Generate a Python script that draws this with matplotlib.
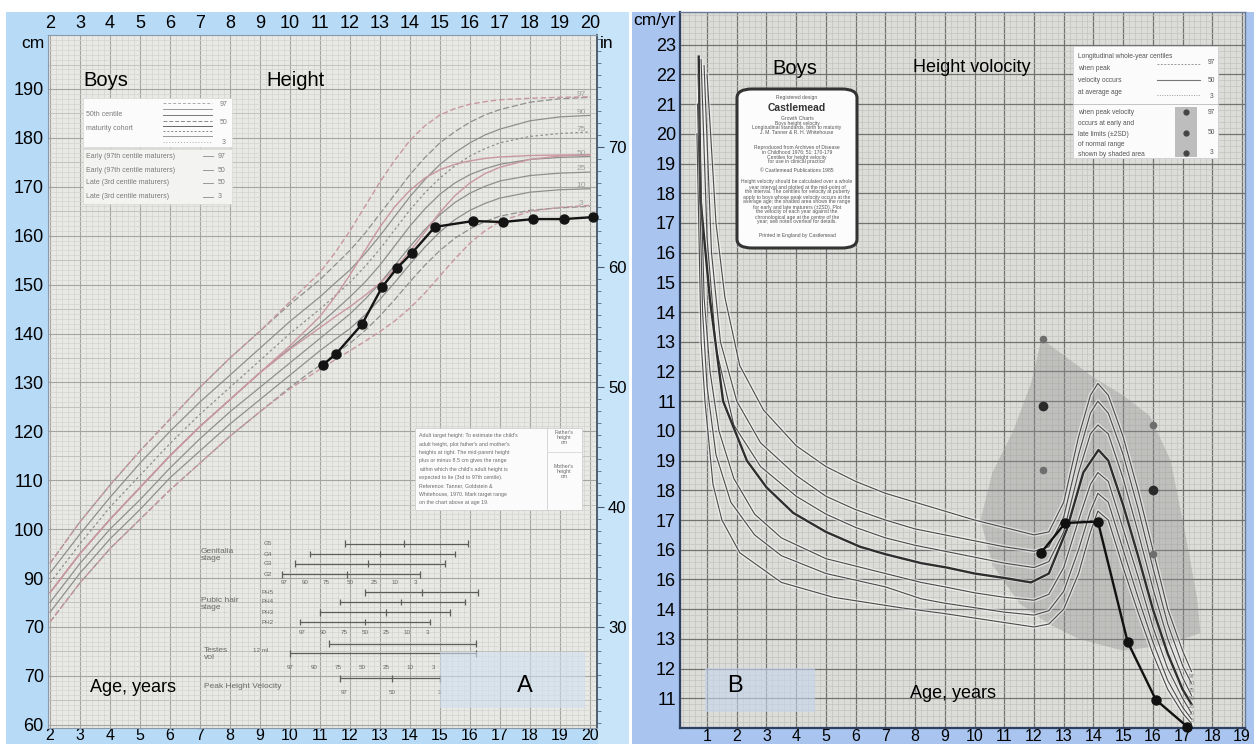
import numpy as np
import matplotlib
matplotlib.use("Agg")
import matplotlib.pyplot as plt
from matplotlib.patches import Rectangle, FancyBboxPatch, Polygon
from matplotlib.lines import Line2D
from matplotlib.ticker import MultipleLocator

plt.rcParams['font.family'] = ['Liberation Sans', 'DejaVu Sans']

# ================= Panel A : height (cm) =================
age_ticks_a = list(range(2, 21))
height_ticks = list(range(60, 200, 10))
height_ticklabels = ['60', '70', '70', '90', '100', '110', '120', '130', '140',
                     '150', '160', '170', '180', '190']
inch_ticks = [30, 40, 50, 60, 70]

ages_h = [2, 3, 4, 5, 6, 7, 8, 9, 10, 10.5, 11, 11.5, 12, 12.5, 13, 13.5, 14,
          14.5, 15, 15.5, 16, 16.5, 17, 18, 19, 20]
h_p97 = [93, 101.5, 109, 116, 122.5, 129, 135, 140.5, 146, 148.5, 151, 154, 157,
         160.5, 164.5, 168.5, 172.5, 176, 179, 181.3, 183.2, 184.7, 185.8, 187.3, 188, 188.3]
h_p90 = [91, 99, 106.5, 113.5, 120, 126, 131.5, 137, 142.5, 145, 147.5, 150.3, 153,
         156.3, 160, 164, 168, 171.5, 174.6, 177, 179, 180.6, 181.8, 183.5, 184.3, 184.6]
h_p75 = [89, 97, 104.5, 111, 117.5, 123.5, 129, 134.5, 140, 142.5, 145, 147.7, 150.5,
         153.7, 157.3, 161.3, 165.3, 168.8, 171.8, 174.3, 176.3, 177.8, 179, 180.3, 180.9, 181.2]
h_p50 = [87, 95, 102, 108.5, 115, 121, 126.5, 132, 137, 139.5, 142, 144.7, 147.5,
         150.5, 154, 158, 162, 165.5, 168.5, 170.8, 172.5, 173.7, 174.6, 175.6, 176, 176.2]
h_p25 = [85, 93, 100, 106, 112.5, 118.5, 124, 129, 134, 136.5, 139, 141.5, 144,
         147, 150.3, 154, 157.8, 161.3, 164.3, 166.8, 168.7, 170.1, 171.2, 172.3, 172.8, 173]
h_p10 = [83, 91, 98, 104, 110.5, 116, 121.5, 126.5, 131.5, 134, 136.5, 138.8, 141,
         143.8, 147, 150.5, 154.2, 157.7, 160.8, 163.3, 165.2, 166.6, 167.7, 168.9, 169.4, 169.6]
h_p3 = [81, 89, 96, 102, 108, 113.5, 119, 124, 129, 131.3, 133.5, 135.8, 138,
        140.6, 143.6, 147, 150.6, 154, 157, 159.5, 161.4, 162.9, 164, 165.2, 165.7, 166]
h_early97 = [93, 101.5, 109, 116, 122.5, 129, 135, 140.5, 146.5, 149.5, 152.5, 156.5, 161,
             166, 171, 175.5, 179.5, 182.5, 184.7, 186, 186.9, 187.4, 187.8, 188.1, 188.3, 188.4]
h_early50 = [87, 95, 102, 108.5, 115, 121, 126.5, 132, 137.5, 140.5, 143.5, 147.5, 152,
             157, 161.8, 166, 169.3, 171.8, 173.5, 174.6, 175.3, 175.8, 176.1, 176.4, 176.5, 176.5]
h_late50 = [87, 95, 102, 108.5, 115, 121, 126.5, 132, 136.8, 139, 141.2, 143.4, 145.5,
            147.8, 150.3, 153.2, 156.8, 160.8, 164.8, 168.2, 170.8, 172.7, 174, 175.6, 176.3, 176.6]
h_late3 = [81, 89, 96, 102, 108, 113.5, 119, 124, 128.7, 130.7, 132.7, 134.6, 136.5,
           138.4, 140.4, 142.6, 145.2, 148.3, 151.8, 155.3, 158.5, 161, 162.9, 165, 165.8, 166.2]
centile_names = ['97', '90', '75', '50', '25', '10', '3']

patient_age_h = [11.1, 11.53, 12.4, 13.07, 13.57, 14.07, 14.83, 16.1, 17.1, 18.1, 19.13, 20.1]
patient_height = [133.6, 135.8, 141.9, 149.5, 153.4, 156.5, 161.8, 163.0, 162.8, 163.4, 163.4, 163.8]

# puberty staging: age ranges (3rd-97th centile) and 50th centile tick
genit_names = ['G5', 'G4', 'G3', 'G2']
genit_from = [11.83, 10.67, 10.17, 9.73]
genit_to = [15.93, 15.5, 15.17, 14.33]
genit_mid = [13.8, 13.0, 12.6, 11.9]
genit_cent_age = [9.8, 10.5, 11.2, 12.0, 12.8, 13.5, 14.2]
pubic_names = ['PH5', 'PH4', 'PH3', 'PH2']
pubic_from = [12.5, 11.67, 11.0, 10.33]
pubic_to = [16.27, 15.83, 15.33, 14.67]
pubic_mid = [14.4, 13.7, 13.2, 12.5]
pubic_cent_age = [10.4, 11.1, 11.8, 12.5, 13.2, 13.9, 14.6]
testes_from = [11.3, 10.0]
testes_to = [16.2, 16.2]
testes_cent_age = [10.0, 10.8, 11.6, 12.4, 13.2, 14.0, 14.8]
phv_from = [11.67]
phv_to = [15.0]
phv_cent_names = ['97', '50', '3']
phv_cent_age = [11.8, 13.4, 15.0]

# ================= Panel B : height velocity (cm/yr) =================
age_ticks_b = list(range(1, 20))
vel_ticks = list(range(1, 24))
vel_ticklabels = ['11', '12', '13', '14', '16', '16', '17', '18', '19', '10', '11', '12',
                  '13', '14', '15', '16', '17', '18', '19', '20', '21', '22', '23']

v97_age = [1.0, 1.3, 1.6, 2.1, 2.9, 4, 5, 6, 7, 8, 9, 10, 11, 12, 12.5, 13, 13.5, 13.9,
           14.15, 14.5, 15, 15.5, 16, 16.5, 17, 17.3]
v97 = [22.0, 17.0, 14.5, 12.2, 10.7, 9.5, 8.8, 8.3, 7.9, 7.6, 7.3, 7.0, 6.75, 6.5, 6.6,
       7.6, 9.8, 11.2, 11.6, 11.2, 9.8, 8.0, 6.0, 4.0, 2.6, 1.9]
v90_age = [0.9, 1.15, 1.45, 2.0, 2.8, 4, 5, 6, 7, 8, 9, 10, 11, 12, 12.5, 13, 13.5, 13.9,
           14.15, 14.5, 15, 15.5, 16, 16.5, 17, 17.3]
v90 = [22.3, 16.0, 13.0, 11.0, 9.6, 8.5, 7.8, 7.35, 7.0, 6.7, 6.5, 6.3, 6.1, 5.95, 6.1,
       7.1, 9.2, 10.6, 11.0, 10.6, 9.2, 7.4, 5.4, 3.5, 2.1, 1.5]
v75_age = [0.8, 1.0, 1.3, 1.9, 2.8, 4, 5, 6, 7, 8, 9, 10, 11, 12, 12.5, 13, 13.5, 13.9,
           14.15, 14.5, 15, 15.5, 16, 16.5, 17, 17.3]
v75 = [22.5, 16.5, 12.8, 10.2, 8.8, 7.8, 7.2, 6.75, 6.4, 6.15, 5.95, 5.75, 5.55, 5.4, 5.6,
       6.6, 8.6, 9.9, 10.2, 9.9, 8.4, 6.6, 4.7, 3.0, 1.7, 1.1]
v50_age = [0.72, 0.78, 1.1, 1.54, 2.34, 3.0, 3.9, 5, 6.15, 7, 8.2, 9.07, 10, 11, 11.9,
           12.5, 13.1, 13.66, 14.17, 14.5, 15, 15.5, 16, 16.5, 17, 17.3]
v50 = [22.6, 17.8, 14.4, 11.0, 9.0, 8.1, 7.24, 6.6, 6.1, 5.85, 5.55, 5.4, 5.2, 5.05, 4.9,
       5.2, 6.67, 8.6, 9.36, 9.0, 7.5, 5.8, 4.0, 2.5, 1.3, 0.8]
v25_age = [0.7, 0.9, 1.1, 1.4, 1.9, 2.6, 3.5, 5, 7, 8.2, 9, 10, 11, 12, 12.5, 13, 13.5,
           13.9, 14.15, 14.5, 15, 15.5, 16, 16.5, 17, 17.3]
v25 = [22.0, 14.5, 12.0, 10.0, 8.4, 7.2, 6.4, 5.7, 5.2, 4.9, 4.75, 4.55, 4.4, 4.3, 4.5,
       5.4, 7.0, 8.2, 8.6, 8.3, 6.7, 5.1, 3.4, 2.0, 1.0, 0.5]
v10_age = [0.68, 0.85, 1.0, 1.3, 1.8, 2.6, 3.5, 5, 7, 8.2, 9, 10, 11, 12, 12.5, 13, 13.5,
           13.9, 14.15, 14.5, 15, 15.5, 16, 16.5, 17, 17.3]
v10 = [21.0, 14.0, 11.5, 9.2, 7.6, 6.5, 5.8, 5.2, 4.75, 4.35, 4.2, 4.05, 3.9, 3.8, 3.95,
       4.6, 6.0, 7.3, 7.9, 7.6, 6.0, 4.4, 2.9, 1.6, 0.7, 0.3]
v3_age = [0.66, 0.8, 0.93, 1.2, 1.5, 2.1, 3.5, 5.25, 7.5, 9, 10, 11, 12, 12.5, 13, 13.5,
          13.9, 14.15, 14.5, 15, 15.5, 16, 16.5, 17, 17.3]
v3 = [20.0, 13.0, 11.0, 8.2, 7.0, 5.9, 4.9, 4.4, 4.05, 3.85, 3.7, 3.55, 3.4, 3.5, 4.0,
      5.2, 6.6, 7.3, 7.0, 5.4, 3.9, 2.5, 1.3, 0.5, 0.15]

shade_age = [12.25, 13.2, 14.0, 15.0, 15.9, 16.6, 17.1, 17.5, 17.6, 16.5, 15.0, 13.5,
             12.5, 11.5, 10.6, 10.2, 10.6, 11.3, 11.9]
shade_val = [13.1, 12.4, 11.8, 11.2, 10.5, 9.0, 6.5, 4.3, 3.2, 2.8, 2.6, 3.0, 3.5, 4.2,
             5.5, 7.0, 8.6, 10.0, 11.6]

limit_age = [12.3, 12.3, 12.3, 16.0, 16.0, 16.0]
limit_val = [13.1, 10.85, 8.7, 10.2, 8.0, 5.85]
limit_is_mid = [False, True, False, False, True, False]

patient_age_v = [12.24, 13.05, 14.15, 15.15, 16.1, 17.15]
patient_vel = [5.9, 6.9, 6.95, 2.9, 0.95, 0.05]

# ================= figure & helpers =================
W, H = 1254, 744
fig = plt.figure(figsize=(W / 100, H / 100), dpi=100)


def fx(px):
    return px / W


def fy(py):
    return 1 - py / H


def frect(x0, y0, x1, y1, **kw):
    r = Rectangle((fx(x0), fy(y1)), (x1 - x0) / W, (y1 - y0) / H,
                  transform=fig.transFigure, **kw)
    fig.add_artist(r)
    return r


def ftext(px, py, s, **kw):
    kw.setdefault('zorder', 6)
    kw.setdefault('va', 'center')
    return fig.text(fx(px), fy(py), s, **kw)


def fline(xs, ys, **kw):
    kw.setdefault('zorder', 6)
    fig.add_artist(Line2D([fx(x) for x in xs], [fy(y) for y in ys],
                          transform=fig.transFigure, **kw))


# blue frames
frect(6, 12, 629, 744, facecolor='#b7daf6', edgecolor='none', zorder=-5)
frect(598, 12, 629, 744, facecolor='#c8e4f9', edgecolor='none', zorder=-4)
frect(632, 12, 1254, 744, facecolor='#a9c5ef', edgecolor='none', zorder=-5)

# ---------------- Axes A ----------------
axA = fig.add_axes([48 / W, 16 / H, 549 / W, 693 / H])
axA.set_facecolor('#e8e8e4')
axA.set_xlim(1.933, 20.233)
axA.set_ylim(59.33, 201.04)
axA.set_xticks(age_ticks_a)
axA.set_xticklabels([str(a) for a in age_ticks_a])
axA.set_yticks(height_ticks)
axA.set_yticklabels(height_ticklabels)
axA.xaxis.set_minor_locator(MultipleLocator(0.2))
axA.yaxis.set_minor_locator(MultipleLocator(1))
axA.set_axisbelow(True)
axA.grid(which='minor', color='#d3d3cf', lw=0.5)
axA.grid(which='major', color='#a4a4a0', lw=0.8)
for v in range(65, 200, 10):
    axA.axhline(v, color='#bebeba', lw=0.6, zorder=0.6)
axA.tick_params(axis='x', which='both', top=True, labeltop=True, bottom=True,
                labelbottom=True, length=0, labelsize=13, pad=2)
axA.tick_params(axis='x', which='both', labelbottom=True, labelsize=12)
for lab in axA.get_xticklabels(which='major'):
    pass
axA.xaxis.set_tick_params(which='major', pad=2)
axA.tick_params(axis='y', which='both', length=0, labelsize=13, pad=3)
for s in axA.spines.values():
    s.set_color('#8a9aaa')
    s.set_linewidth(0.8)
axA.spines['right'].set_color('#4f5f70')
axA.spines['right'].set_linewidth(1.4)


def cm_to_in(cm):
    return 70 - (178.1 - np.asarray(cm)) / 2.454


def in_to_cm(i):
    return 178.1 - (70 - np.asarray(i)) * 2.454


sec = axA.secondary_yaxis('right', functions=(cm_to_in, in_to_cm))
sec.set_yticks(inch_ticks)
sec.yaxis.set_minor_locator(MultipleLocator(1))
sec.tick_params(which='major', length=5, color='#4a5a6a', labelsize=12, pad=3)
sec.tick_params(which='minor', length=3, color='#5a6a7a')
sec.spines['right'].set_visible(False)

gray_sets = [(h_p97, (0, (5, 2))), (h_p90, '-'), (h_p75, (0, (2, 2))), (h_p50, '-'),
             (h_p25, '-'), (h_p10, '-'), (h_p3, (0, (5, 2)))]
for vals, ls in gray_sets:
    axA.plot(ages_h, vals, color='#8f8f8f', lw=0.9, ls=ls, zorder=3)
pink_sets = [(h_early97, (0, (4, 2))), (h_early50, '-'), (h_late50, '-'), (h_late3, (0, (4, 2)))]
for vals, ls in pink_sets:
    axA.plot(ages_h, vals, color='#c9979f', lw=1.0, ls=ls, zorder=3)
for (vals, ls), name in zip(gray_sets, centile_names):
    axA.text(19.7, vals[-2] + 0.9, name, fontsize=6, color='#a0a0a0', ha='center',
             va='center', zorder=4)

axA.plot(patient_age_h, patient_height, color='#141414', lw=1.7, marker='o', ms=6.5,
         zorder=6, clip_on=False)

# puberty staging bars
genit_rows = np.array([97.0, 94.9, 92.9, 90.8])
pubic_rows = np.array([87.1, 85.1, 83.0, 81.0])
testes_rows = np.array([76.6, 74.6])
phv_rows = np.array([69.5])
sc = '#5c5c5c'


def stage_bars(rows, frm, to, mid=None):
    axA.hlines(rows, frm, to, color=sc, lw=0.9, zorder=4)
    axA.vlines(frm, rows - 0.7, rows + 0.7, color=sc, lw=0.9, zorder=4)
    axA.vlines(to, rows - 0.7, rows + 0.7, color=sc, lw=0.9, zorder=4)
    if mid is not None:
        axA.vlines(mid, rows - 0.7, rows + 0.7, color=sc, lw=0.9, zorder=4)


stage_bars(genit_rows, genit_from, genit_to, genit_mid)
stage_bars(pubic_rows, pubic_from, pubic_to, pubic_mid)
stage_bars(testes_rows, testes_from, testes_to)
stage_bars(phv_rows, phv_from, phv_to, [13.4])
for r, n in zip(genit_rows, genit_names):
    axA.text(9.25, r, n, fontsize=4.5, color='#666', va='center', ha='center')
for r, n in zip(pubic_rows, pubic_names):
    axA.text(9.25, r, n, fontsize=4.5, color='#666', va='center', ha='center')
for a, n in zip(genit_cent_age, centile_names):
    axA.text(a, 89.0, n, fontsize=4.5, color='#666', ha='center', va='center')
for a, n in zip(pubic_cent_age, centile_names):
    axA.text(a, 78.9, n, fontsize=4.5, color='#666', ha='center', va='center')
for a, n in zip(testes_cent_age, centile_names):
    axA.text(a, 71.8, n, fontsize=4.5, color='#666', ha='center', va='center')
for a, n in zip(phv_cent_age, phv_cent_names):
    axA.text(a, 66.6, n, fontsize=4.5, color='#666', ha='center', va='center')

# bottom tick labels of A: slightly smaller and closer so they stay inside the image
for lab in axA.xaxis.get_ticklabels():
    lab.set_fontsize(13)
axA.xaxis.set_tick_params(labelbottom=True)
for t in axA.xaxis.get_major_ticks():
    t.label1.set_fontsize(11.5)
    t.label1.set_y(0.004)
    t.label2.set_fontsize(13)

# ---------------- Axes B ----------------
axB = fig.add_axes([680 / W, 16 / H, 565 / W, 716 / H])
axB.set_facecolor('#dcdcd8')
axB.set_xlim(0.09, 19.1)
axB.set_ylim(0, 24.1)
axB.set_xticks(age_ticks_b)
axB.set_xticklabels([str(a) for a in age_ticks_b])
axB.set_yticks(vel_ticks)
axB.set_yticklabels(vel_ticklabels)
axB.xaxis.set_minor_locator(MultipleLocator(0.2))
axB.yaxis.set_minor_locator(MultipleLocator(0.2))
axB.set_axisbelow(True)
axB.grid(which='minor', color='#c3c3bf', lw=0.5)
axB.grid(which='major', color='#727272', lw=0.9)
axB.tick_params(axis='both', which='both', length=0)
axB.tick_params(axis='y', labelsize=13, pad=3)
axB.tick_params(axis='x', labelsize=11.5, pad=0.5)
for s in axB.spines.values():
    s.set_color('#6a7a9a')
    s.set_linewidth(1.0)
axB.spines['left'].set_color('#2f3f5f')
axB.spines['left'].set_linewidth(1.6)
axB.spines['bottom'].set_color('#2f3f5f')
axB.spines['bottom'].set_linewidth(1.6)

axB.add_patch(Polygon(list(zip(shade_age, shade_val)), closed=True, facecolor='#8e8e8e',
                      edgecolor='none', alpha=0.36, zorder=2))

vel_sets = [(v97_age, v97, False), (v90_age, v90, False), (v75_age, v75, False),
            (v50_age, v50, True), (v25_age, v25, False), (v10_age, v10, False),
            (v3_age, v3, False)]
for ag, vals, bold in vel_sets:
    axB.plot(ag, vals, color='white', lw=2.8, alpha=0.5, zorder=3,
             solid_capstyle='round')
for ag, vals, bold in vel_sets:
    axB.plot(ag, vals, color='#2e2e2e' if bold else '#4a4a4a', lw=1.7 if bold else 0.8,
             zorder=4)

for a, v, mid in zip(limit_age, limit_val, limit_is_mid):
    axB.plot([a], [v], 'o', color='#2a2a2a' if mid else '#6e6e6e', ms=6 if mid else 4.5,
             zorder=5)

axB.plot(patient_age_v, patient_vel, color='#111111', lw=1.7, marker='o', ms=6.5,
         zorder=6, clip_on=False)

# ================= texts & decorations =================
# Panel A labels
ftext(33, 43, 'cm', fontsize=12.5, ha='center')
ftext(607, 44, 'in', fontsize=12.5, ha='center')
ftext(106, 81, 'Boys', fontsize=14.5, ha='center')
ftext(296, 81, 'Height', fontsize=14.5, ha='center')
ftext(133, 687, 'Age, years', fontsize=13, ha='center')
frect(440, 652, 585, 708, facecolor='#cfe0f0', edgecolor='none', alpha=0.6, zorder=1)
ftext(525, 686, 'A', fontsize=17, ha='center')

# A legend box (upper-left)
frect(83, 98, 232, 147, facecolor='#fbfbfb', edgecolor='#d8d8d8', lw=0.5, zorder=5)
frect(83, 149, 232, 204, facecolor='#f3f3f1', edgecolor='#d8d8d8', lw=0.5, zorder=5)
lg = dict(fontsize=5, color='#7a7a7a', ha='left')
ftext(86, 114, '50th centile', **lg)
ftext(86, 128, 'maturity cohort', **lg)
for yy, ls, c in [(103, (0, (3, 2)), '#aaa'), (109, '-', '#999'), (115, '-', '#777'),
                  (121, (0, (4, 2)), '#888'), (126, '-', '#666'), (131, (0, (2, 2)), '#888'),
                  (136, '-', '#999'), (142, (0, (1, 2)), '#aaa')]:
    fline([163, 212], [yy, yy], color=c, lw=0.7, ls=ls)
ftext(220, 104, '97', **lg)
ftext(220, 123, '50', **lg)
ftext(222, 142, '3', **lg)
for yy, s, n in [(156, 'Early (97th centile maturers)', '97'),
                 (170, 'Early (97th centile maturers)', '50'),
                 (183, 'Late (3rd centile maturers)', '50'),
                 (197, 'Late (3rd centile maturers)', '3')]:
    ftext(86, yy, s, **lg)
    fline([203, 213], [yy, yy], color='#999', lw=0.7)
    ftext(218, yy, n, **lg)

# A target height box (lower-right)
frect(415, 428, 582, 510, facecolor='#fbfbfb', edgecolor='#d0d0d0', lw=0.6, zorder=5)
fline([547, 547], [428, 510], color='#d0d0d0', lw=0.6)
fline([547, 582], [452, 452], color='#d8d8d8', lw=0.6)
para = ["Adult target height: To estimate the child's",
        "adult height, plot father's and mother's",
        "heights at right. The mid-parent height",
        "plus or minus 8.5 cm gives the range",
        "within which the child's adult height is",
        "expected to lie (3rd to 97th centile).",
        "Reference: Tanner, Goldstein &",
        "Whitehouse, 1970. Mark target range",
        "on the chart above at age 19."]
for i, s in enumerate(para):
    ftext(419, 436 + i * 8.3, s, fontsize=3.8, color='#6a6a6a', ha='left')
ftext(564, 438, "Father's\nheight\ncm", fontsize=3.8, color='#6a6a6a', ha='center',
      linespacing=1.0)
ftext(564, 472, "Mother's\nheight\ncm", fontsize=3.8, color='#6a6a6a', ha='center',
      linespacing=1.0)

# puberty stage labels
st = dict(fontsize=6, color='#6a6a6a', ha='left')
ftext(201, 555, 'Genitalia\nstage', linespacing=1.1, **st)
ftext(201, 604, 'Pubic hair\nstage', linespacing=1.1, **st)
ftext(204, 654, 'Testes\nvol', linespacing=1.1, **st)
ftext(253, 650, '12 ml', fontsize=4.5, color='#6a6a6a', ha='left')
ftext(204, 686, 'Peak Height Velocity', **st)

# Panel B labels
ftext(676, 20, 'cm/yr', fontsize=12.5, ha='right')
ftext(795, 68, 'Boys', fontsize=14.5, ha='center')
ftext(972, 68, 'Height volocity', fontsize=13, ha='center')
ftext(953, 693, 'Age, years', fontsize=13, ha='center')
frect(705, 668, 815, 712, facecolor='#c6d6ee', edgecolor='none', alpha=0.6, zorder=1)
ftext(735, 686, 'B', fontsize=17, ha='center')
for i, n in enumerate(centile_names):
    ftext(1192, 676 + i * 7.5, n, fontsize=3.8, color='#777', ha='center')

# Castlemead box
cb = FancyBboxPatch((fx(737), fy(248)), (857 - 737) / W, (248 - 89) / H,
                    boxstyle='round,pad=0,rounding_size=0.012',
                    transform=fig.transFigure, facecolor='#fcfcfc',
                    edgecolor='#333333', lw=2.2, zorder=5)
fig.add_artist(cb)
ct = dict(fontsize=3.6, color='#555', ha='center')
ftext(797, 98, 'Registered design', **ct)
ftext(797, 108, 'Castlemead', fontsize=7.5, color='#333', ha='center', fontweight='bold')
for i, s in enumerate(['Growth Charts', 'Boys height velocity',
                       'Longitudinal standards, birth to maturity',
                       'J. M. Tanner & R. H. Whitehouse']):
    ftext(797, 118 + i * 5, s, **ct)
for i, s in enumerate(['Reproduced from Archives of Disease',
                       'in Childhood 1976; 51: 170-179',
                       'Centiles for height velocity',
                       'for use in clinical practice']):
    ftext(797, 147 + i * 5, s, **ct)
ftext(797, 170, '© Castlemead Publications 1985', **ct)
for i, s in enumerate(['Height velocity should be calculated over a whole',
                       'year interval and plotted at the mid-point of',
                       'the interval. The centiles for velocity at puberty',
                       'apply to boys whose peak velocity occurs at the',
                       'average age; the shaded area shows the range',
                       'for early and late maturers (±2SD). Plot',
                       'the velocity of each year against the',
                       'chronological age at the centre of the',
                       'year; see notes overleaf for details.']):
    ftext(797, 182 + i * 5, s, **ct)
ftext(797, 236, 'Printed in England by Castlemead', **ct)

# B legend (upper-right)
frect(1073, 46, 1218, 158, facecolor='#fbfbfb', edgecolor='#d0d0d0', lw=0.6, zorder=5)
fline([1073, 1218], [104, 104], color='#bbbbbb', lw=0.6)
frect(1175, 107, 1197, 157, facecolor='#bdbdbd', edgecolor='none', zorder=5.5)
bl = dict(fontsize=4.8, color='#555', ha='left')
ftext(1078, 56, 'Longitudinal whole-year centiles', **bl)
ftext(1078, 68, 'when peak', **bl)
ftext(1078, 80, 'velocity occurs', **bl)
ftext(1078, 93, 'at average age', **bl)
fline([1157, 1200], [64, 64], color='#999', lw=0.7, ls=(0, (2, 1.5)))
fline([1157, 1200], [80, 80], color='#777', lw=0.8)
fline([1157, 1200], [95, 95], color='#999', lw=0.7, ls=(0, (1, 1.5)))
ftext(1208, 63, '97', **bl)
ftext(1208, 80, '50', **bl)
ftext(1210, 96, '3', **bl)
for i, s in enumerate(['when peak velocity', 'occurs at early and', 'late limits (±2SD)',
                       'of normal range', 'shown by shaded area']):
    ftext(1078, 113 + i * 10.5, s, **bl)
fig.add_artist(Line2D([fx(1186)] * 3, [fy(112), fy(133), fy(153)], ls='none',
                      marker='o', ms=3.5, color='#444', transform=fig.transFigure,
                      zorder=6))
ftext(1208, 112, '97', **bl)
ftext(1208, 133, '50', **bl)
ftext(1210, 153, '3', **bl)

fig.savefig('out.png', dpi=100)
